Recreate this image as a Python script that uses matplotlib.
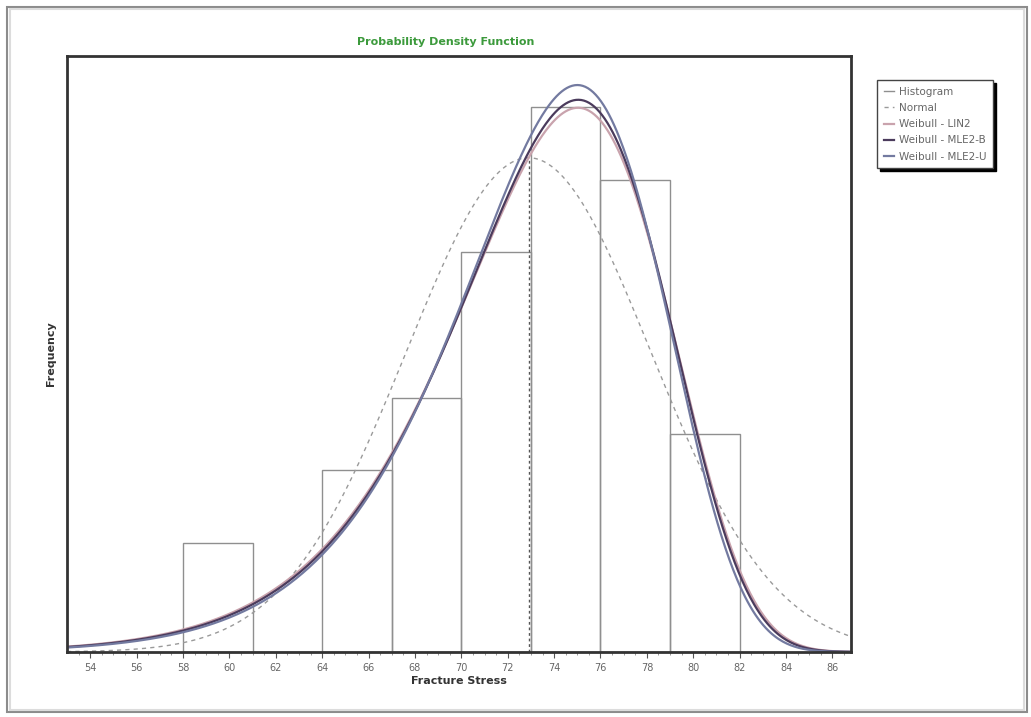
import numpy as np
import matplotlib
matplotlib.use("Agg")
import matplotlib.pyplot as plt
from matplotlib.patches import Rectangle

# histogram of fracture stress (bin edges and counts)
bin_edges = [58, 61, 64, 67, 70, 73, 76, 79, 82]
counts = [3, 0, 5, 7, 11, 15, 13, 6]
n_samples = sum(counts)
bin_width = 3

# fitted distributions
normal_mean = 72.9
normal_sd = 5.28
weibull_names = ["Weibull - LIN2", "Weibull - MLE2-B", "Weibull - MLE2-U"]
weibull_shape = [17.0, 17.25, 17.7]
weibull_scale = [75.3, 75.3, 75.25]
weibull_colors = ["#c9a3ad", "#4b3b5c", "#737aa0"]

xticks = list(range(54, 88, 2))


def normal_pdf(x, m, s):
    return np.exp(-0.5 * ((x - m) / s) ** 2) / (s * np.sqrt(2 * np.pi))


def weibull_pdf(x, k, lam):
    z = x / lam
    return k / lam * z ** (k - 1) * np.exp(-z ** k)


fig = plt.figure(figsize=(10.31, 7.17), dpi=100)
ax = fig.add_axes([0.065, 0.0907, 0.7604, 0.8312])

# outer frame
fig.patches.append(Rectangle((0.007, 0.007), 0.989, 0.983, transform=fig.transFigure,
                             fill=False, edgecolor="#8c8c8c", lw=1.5))
fig.patches.append(Rectangle((0.010, 0.010), 0.983, 0.977, transform=fig.transFigure,
                             fill=False, edgecolor="#dcdcdc", lw=1.5))

ax.bar(bin_edges[:-1], counts, width=bin_width, align="edge", fill=False,
       edgecolor="#8f8f8f", lw=1.0)
h_hist, = ax.plot([], [], color="#8f8f8f", lw=1.0, label="Histogram")

x = np.linspace(53.0, 86.8, 600)
scale = n_samples * bin_width
ax.plot(x, normal_pdf(x, normal_mean, normal_sd) * scale, color="#9a9a9a",
        ls=(0, (3, 3)), lw=1.0, label="Normal")
peak = normal_pdf(normal_mean, normal_mean, normal_sd) * scale
ax.plot([normal_mean, normal_mean], [0, peak], color="#555555", ls=(0, (2, 2)), lw=1.0)

for name, k, lam, c in zip(weibull_names, weibull_shape, weibull_scale, weibull_colors):
    ax.plot(x, weibull_pdf(x, k, lam) * scale, color=c, lw=1.6, label=name)

ax.set_xlim(53.0, 86.8)
ax.set_ylim(0, 16.4)
ax.set_yticks([])
ax.set_xticks(xticks)
ax.set_xticks(np.arange(53.5, 87, 0.5), minor=True)
ax.tick_params(axis="x", which="major", length=4, width=0.8, color="#555555",
               labelsize=7, labelcolor="#666666", pad=4)
ax.tick_params(axis="x", which="minor", length=2, width=0.6, color="#888888")
for sp in ax.spines.values():
    sp.set_linewidth(2.0)
    sp.set_color("#333333")

ax.set_xlabel("Fracture Stress", fontsize=8, fontweight="bold", color="#333333", labelpad=2)
ax.set_ylabel("Frequency", fontsize=8, fontweight="bold", color="#333333", labelpad=8)
fig.text(446 / 1031, 1 - 42 / 717, "Probability Density Function", ha="center", va="center",
         fontsize=8, fontweight="bold", color="#3c9a3c")

handles, labels = ax.get_legend_handles_labels()
leg = fig.legend(handles, labels, loc="upper left", bbox_to_anchor=(0.846, 0.895),
                 fontsize=7.5, frameon=True, fancybox=False, handlelength=1.0,
                 handletextpad=0.5, borderpad=0.6, labelspacing=0.6,
                 shadow={"color": "black", "alpha": 1.0, "ox": 2, "oy": -2})
leg.get_frame().set_edgecolor("#444444")
leg.get_frame().set_linewidth(1.0)
for t in leg.get_texts():
    t.set_color("#666666")

fig.savefig("out.png", dpi=100)
